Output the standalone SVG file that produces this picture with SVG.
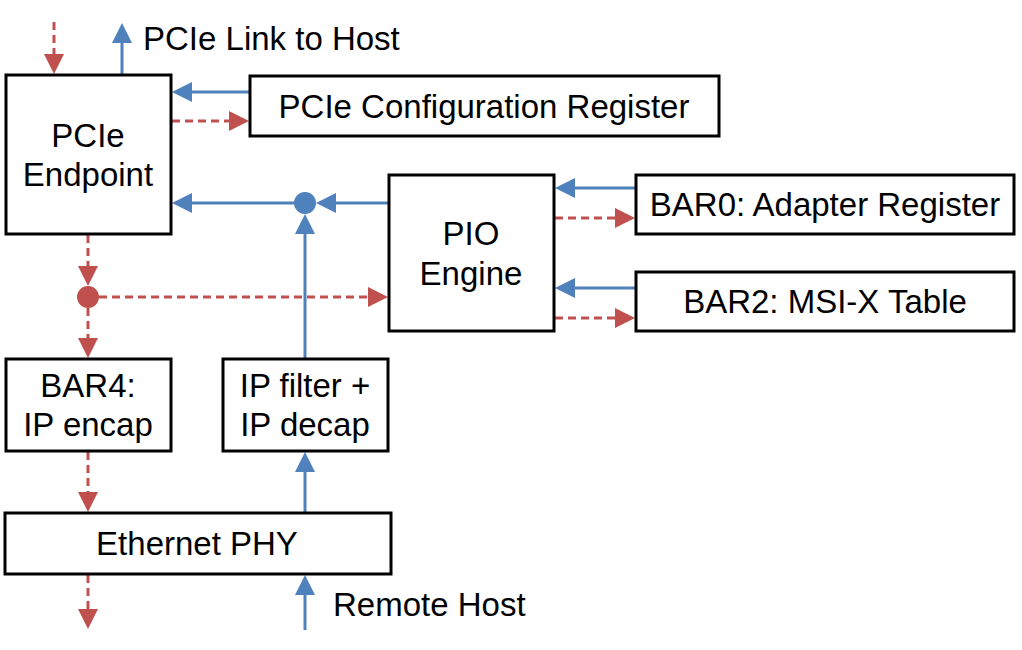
<svg xmlns="http://www.w3.org/2000/svg" width="1022" height="650" viewBox="0 0 1022 650">
<defs>
<marker id="ab" viewBox="0 0 20 20" markerWidth="20" markerHeight="20" refX="0" refY="10" orient="auto" markerUnits="userSpaceOnUse"><path d="M0,0 L20,10 L0,20 z" fill="#4F81BD"/></marker>
<marker id="ar" viewBox="0 0 20 20" markerWidth="20" markerHeight="20" refX="0" refY="10" orient="auto" markerUnits="userSpaceOnUse"><path d="M0,0 L20,10 L0,20 z" fill="#C0504D"/></marker>
<style>
.box{fill:#fff;stroke:#000;stroke-width:3}
.t{font-family:"Liberation Sans",Arial,sans-serif;font-size:33px;fill:#000}
.m{text-anchor:middle}
.b{fill:none;stroke:#4F81BD;stroke-width:3;marker-end:url(#ab)}
.r{fill:none;stroke:#C0504D;stroke-width:3;stroke-dasharray:8 5;marker-end:url(#ar)}
.bl{fill:none;stroke:#4F81BD;stroke-width:3}
.rl{fill:none;stroke:#C0504D;stroke-width:3;stroke-dasharray:8 5}
</style>
</defs>
<rect width="1022" height="650" fill="#fff"/>
<g id="connectors">
<path class="r" d="M54,22 V54"/>
<path class="b" d="M122,74 V43"/>
<path class="b" d="M249,92 H192"/>
<path class="r" d="M172,121 H229"/>
<path class="b" d="M388,203 H336"/>
<path class="b" d="M294,203 H192"/>
<path class="b" d="M305,358 V234"/>
<path class="r" d="M88,235 V266"/>
<path class="r" d="M99,297 H368"/>
<path class="r" d="M88,308 V338"/>
<path class="b" d="M635,188 H575"/>
<path class="r" d="M555,218 H615"/>
<path class="b" d="M635,288 H575"/>
<path class="r" d="M555,318 H615"/>
<path class="r" d="M88,452 V492"/>
<path class="b" d="M305,512 V472"/>
<path class="r" d="M88,575 V609"/>
<path class="b" d="M305,630 V595"/>
<circle cx="305" cy="203" r="11" fill="#4F81BD"/>
<circle cx="88" cy="297" r="11" fill="#C0504D"/>
</g>
<g id="link-label"><text class="t" x="143" y="50">PCIe Link to Host</text></g>
<g id="remote-label"><text class="t" x="333" y="616">Remote Host</text></g>
<g id="endpoint"><rect class="box" x="6" y="75" width="165" height="159"/><text class="t m" x="88" y="147">PCIe</text><text class="t m" x="88" y="186">Endpoint</text></g>
<g id="config"><rect class="box" x="250" y="76" width="469" height="60"/><text class="t m" x="484" y="118">PCIe Configuration Register</text></g>
<g id="pio"><rect class="box" x="389" y="175" width="165" height="156"/><text class="t m" x="471" y="245">PIO</text><text class="t m" x="471" y="285">Engine</text></g>
<g id="bar0"><rect class="box" x="636" y="175" width="378" height="59"/><text class="t m" x="825" y="216">BAR0: Adapter Register</text></g>
<g id="bar2"><rect class="box" x="636" y="272" width="378" height="59"/><text class="t m" x="825" y="313">BAR2: MSI-X Table</text></g>
<g id="bar4"><rect class="box" x="6" y="359" width="165" height="92"/><text class="t m" x="88" y="397">BAR4:</text><text class="t m" x="88" y="436">IP encap</text></g>
<g id="ipfilter"><rect class="box" x="223" y="359" width="165" height="92"/><text class="t m" x="305" y="397">IP filter +</text><text class="t m" x="305" y="436">IP decap</text></g>
<g id="phy"><rect class="box" x="5" y="513" width="386" height="61"/><text class="t m" x="197" y="555">Ethernet PHY</text></g>
</svg>
